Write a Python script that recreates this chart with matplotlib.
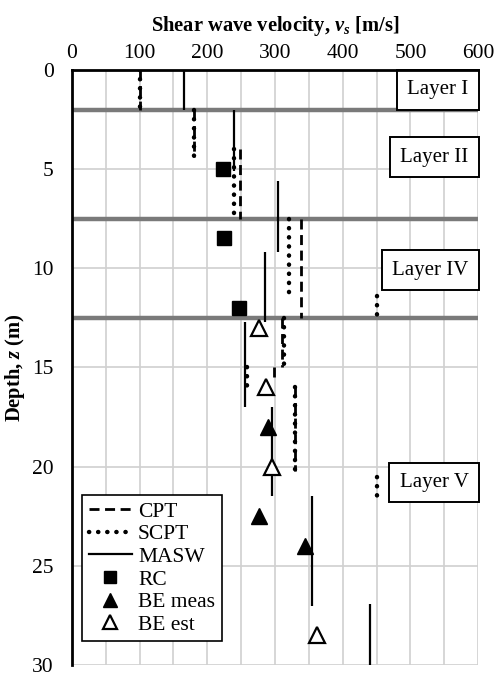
import numpy as np
import matplotlib
matplotlib.use("Agg")
import matplotlib.pyplot as plt
from matplotlib.lines import Line2D

plt.rcParams['font.family'] = ['Liberation Serif', 'DejaVu Serif']
plt.rcParams['mathtext.fontset'] = 'custom'
plt.rcParams['mathtext.rm'] = 'Liberation Serif:bold'
plt.rcParams['mathtext.it'] = 'Liberation Serif:italic:bold'
plt.rcParams['mathtext.bf'] = 'Liberation Serif:bold'

#######################################################################################
# DATA
#######################################################################################
# Profiles given as (velocity, top depth, bottom depth)
cpt_v = [100, 180, 248, 339, 310, 299, 330]
cpt_top = [0.0, 2.0, 4.0, 7.5, 12.5, 15.0, 16.0]
cpt_bot = [2.0, 4.4, 7.5, 12.5, 15.0, 15.5, 20.2]

scpt_v = [100, 180, 240, 320, 450, 313, 258, 330, 450]
scpt_top = [0.0, 2.0, 4.0, 7.5, 11.4, 12.5, 15.0, 16.0, 20.5]
scpt_bot = [2.0, 4.4, 7.5, 11.3, 12.5, 15.0, 16.0, 20.2, 21.9]

masw_v = [165, 240, 305, 285, 255, 295, 355, 440]
masw_top = [0.0, 2.0, 5.6, 9.2, 12.7, 17.0, 21.5, 26.9]
masw_bot = [2.0, 5.1, 9.2, 12.7, 17.0, 21.5, 27.0, 30.0]

rc_v = [223, 225, 247]
rc_z = [5.0, 8.5, 12.0]

be_meas_v = [290, 276, 345]
be_meas_z = [18.0, 22.5, 24.0]

be_est_v = [277, 286, 295, 362]
be_est_z = [13.0, 16.0, 20.0, 28.5]

layer_bounds = [2.0, 7.5, 12.5]
layer_names = ["Layer I", "Layer II", "Layer IV", "Layer V"]
layer_label_z = [1.0, 4.4, 10.1, 20.8]

#######################################################################################
# PLOT
#######################################################################################
fig = plt.figure(figsize=(4.96, 6.78), dpi=100)
ax = fig.add_axes([0.145, 0.019, 0.819, 0.878])

ax.set_xlim(0, 600)
ax.set_ylim(30, 0)
ax.set_xticks(np.arange(0, 601, 100))
ax.set_yticks(np.arange(0, 31, 5))
ax.set_xticks(np.arange(50, 600, 100), minor=True)
ax.xaxis.tick_top()
ax.xaxis.set_label_position('top')
ax.tick_params(length=0, labelsize=15.5, pad=5, which='both')
ax.tick_params(axis='y', pad=13)
ax.grid(True, which='both', axis='x', color='#d0d0d0', lw=1.2)
ax.grid(True, which='major', axis='y', color='#d0d0d0', lw=1.2)
ax.set_axisbelow(True)
for s in ['right', 'bottom']:
    ax.spines[s].set_visible(False)
for s in ['left', 'top']:
    ax.spines[s].set_linewidth(2.0)
    ax.spines[s].set_zorder(6)

ax.set_xlabel(r'Shear wave velocity, $v_s$ [m/s]', fontweight='bold',
              fontsize=14.8, labelpad=9)
ax.set_ylabel(r'Depth, $z$ (m)', fontweight='bold', fontsize=14.8, labelpad=4)

# Layer boundaries
for zb in layer_bounds:
    ax.axhline(zb, color='#7a7a7a', lw=3.2, zorder=2)

# Profiles
dash_style = (0, (3.6, 2.0))
dot_style = (0, (0.05, 2.0))
ax.vlines(cpt_v, cpt_top, cpt_bot, colors='black', lw=2.0, linestyles=[dash_style], zorder=3)
ax.vlines(scpt_v, scpt_top, scpt_bot, colors='black', lw=3.2, linestyles=[dot_style],
          capstyle='round', zorder=3)
ax.vlines(masw_v, masw_top, masw_bot, colors='black', lw=1.6, zorder=3)

# Point measurements
ax.plot(rc_v, rc_z, 's', color='black', ms=10, ls='none', zorder=4)
ax.plot(be_meas_v, be_meas_z, '^', color='black', ms=12, ls='none', zorder=4)
ax.plot(be_est_v, be_est_z, '^', mfc='white', mec='black', mew=1.6, ms=12, ls='none', zorder=4)

# Layer labels
for name, zl in zip(layer_names, layer_label_z):
    ax.text(586, zl, name, ha='right', va='center', fontsize=15, zorder=5,
            bbox=dict(boxstyle='square,pad=0.5', fc='white', ec='black', lw=1.4))

handles = [
    Line2D([], [], color='black', lw=2.0, ls=dash_style, label='CPT'),
    Line2D([], [], color='black', lw=3.2, ls=dot_style, dash_capstyle='round', label='SCPT'),
    Line2D([], [], color='black', lw=1.6, label='MASW'),
    Line2D([], [], marker='s', color='black', ms=9, ls='none', label='RC'),
    Line2D([], [], marker='^', color='black', ms=10, ls='none', label='BE meas'),
    Line2D([], [], marker='^', mfc='white', mec='black', mew=1.6, ms=10, ls='none', label='BE est'),
]
leg = ax.legend(handles=handles, loc='lower left', bbox_to_anchor=(0.025, 0.04), fontsize=15.5,
                frameon=True, fancybox=False, edgecolor='black', framealpha=1,
                handlelength=2.0, handletextpad=0.3, borderpad=0.3, labelspacing=0.12,
                borderaxespad=0)
leg.get_frame().set_linewidth(1.2)
leg.set_zorder(7)

fig.savefig('out.png', dpi=100)
